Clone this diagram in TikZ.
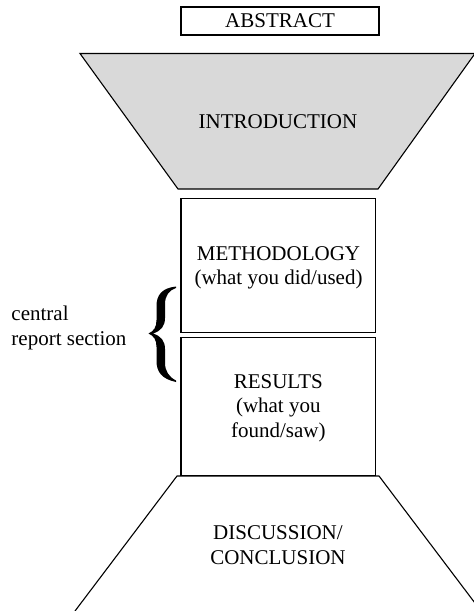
\documentclass[tikz,border=0pt]{standalone}
\usepackage{fontspec}
\setmainfont{Liberation Serif}
\definecolor{introgray}{HTML}{D9D9D9}
\begin{document}
\begin{tikzpicture}[x=1pt,y=-1pt,
  line join=miter,
  outline/.style={draw=black,line width=1.1pt},
  boxnode/.style={outline,rectangle,inner sep=0pt,outer sep=0pt},
  label/.style={inner sep=0pt,outer sep=0pt,align=center,font=\fontsize{21}{24.3}\selectfont}]
\useasboundingbox (0,0) rectangle (474,611);
\clip (0,0) rectangle (474,611);
% abstract
\node[boxnode,minimum width=198pt,minimum height=28pt] (abs) at (280,21) {};
\node[label,anchor=base] (abstxt) at (abs.center |- 0,27.2) {ABSTRACT};
% introduction funnel
\coordinate (itl) at (80,53.5);
\coordinate (itr) at (475,53.5);
\coordinate (ibr) at (378,189);
\coordinate (ibl) at (178,189);
\filldraw[outline,fill=introgray] (itl) -- (itr) -- (ibr) -- (ibl) -- cycle;
\node[label,anchor=base] (intro) at (278,128.3) {INTRODUCTION};
% methodology
\node[boxnode,minimum width=194.5pt,minimum height=134pt] (meth) at (278.25,265.3) {};
\node[label] (methtxt) at (278.5,267.6) {METHODOLOGY\\(what you did/used)};
% results
\node[boxnode,minimum width=194.3pt,minimum height=138.3pt] (res) at (278.15,406.2) {};
\node[label] (restxt) at (278.3,408) {RESULTS\\(what you\\found/saw)};
% discussion funnel
\coordinate (dtl) at (177,476);
\coordinate (dtr) at (379,476);
\coordinate (dbl) at (75,611);
\coordinate (dbr) at (481,611);
\draw[outline] (dbl) -- (dtl) -- (dtr) -- (dbr);
\node[label] (disc) at (278,545) {DISCUSSION/\\CONCLUSION};
% brace
\fill[black] (176,286.5)
  .. controls (162,288) and (156.5,295) .. (156.5,306)
  -- (156.5,320)
  .. controls (156.5,327) and (154,331) .. (148.5,333.5)
  .. controls (154,336) and (156.5,340) .. (156.5,347)
  -- (156.5,361)
  .. controls (156.5,372) and (162,379) .. (176,382)
  -- (176,380.5)
  .. controls (169,377) and (165,371) .. (165,363)
  -- (165,349)
  .. controls (165,341) and (161,336) .. (153,333.5)
  .. controls (161,331) and (165,326) .. (165,318)
  -- (165,304)
  .. controls (165,296) and (169,290) .. (176,288)
  -- cycle;
\node[label,align=left,anchor=west] (central) at (11.5,327.8) {central\\report section};
\end{tikzpicture}
\end{document}
